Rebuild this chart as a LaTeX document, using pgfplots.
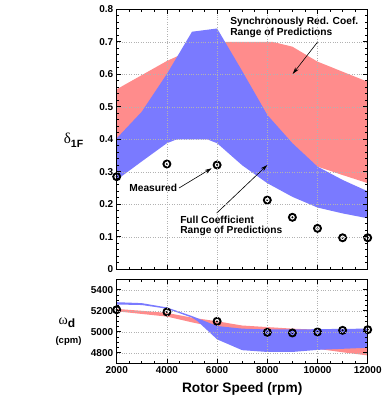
\documentclass[border=0pt]{standalone}
\usepackage{pgfplots}
\pgfplotsset{compat=1.18}
\usepackage{fontspec}
\setmainfont{Liberation Sans}
\newfontfamily\greekfont{Liberation Serif}
\usetikzlibrary{arrows.meta}
\definecolor{bandred}{RGB}{255,140,140}
\definecolor{bandblue}{RGB}{122,122,255}
\newcommand{\annfont}{\bfseries\fontsize{10.2}{10.4}\selectfont}
\pgfplotsset{
  myaxis/.style={
    scale only axis, width=251pt,
    xmin=2000, xmax=12000,
    xtick={2000,4000,6000,8000,10000,12000}, minor x tick num=3,
    scaled x ticks=false, scaled y ticks=false,
    tick align=inside,
    xtick pos=both, ytick pos=both,
    grid=major,
    major grid style={dotted, black!30, line width=0.6pt},
    axis line style={line width=1.1pt},
    major tick length=4.5pt, minor tick length=2.5pt,
    every tick/.style={black, line width=0.8pt},
    tick label style={font=\bfseries\fontsize{10}{12}\selectfont},
    /pgf/number format/assume math mode=true,
    /pgf/number format/1000 sep={},
    set layers, axis on top,
    clip=false,
  },
  measured/.style={only marks, mark=o, mark size=3.5pt, line width=1.9pt,
    mark options={fill=white, draw=black}, on layer=axis foreground},
  mdot/.style={only marks, mark=*, mark size=0.8pt, mark options={fill=black, draw=black},
    on layer=axis foreground},
}
\begin{document}
\begin{tikzpicture}
% ---------------- top panel ----------------
\begin{axis}[myaxis,
  at={(116.7pt,130.7pt)}, anchor=south west,
  height=260pt,
  ymin=0, ymax=0.8,
  ytick={0,0.1,...,0.8}, minor y tick num=4,
  xticklabels=\empty,
  yticklabel style={/pgf/number format/fixed, /pgf/number format/precision=1},
]
\addplot[fill=bandred, draw=none] coordinates {
  (2000,0.554) (4000,0.641) (4400,0.655) (5000,0.680) (6000,0.700) (8200,0.700)
  (9000,0.685) (10000,0.639) (11000,0.608) (12000,0.577)
  (12000,0.265) (11000,0.290) (10000,0.316) (9000,0.340) (8000,0.360) (7000,0.380)
  (6000,0.395) (5600,0.400) (5000,0.418) (4400,0.400) (2000,0.403)
};
\addplot[fill=bandblue, draw=none] coordinates {
  (2000,0.403) (3000,0.485) (4000,0.601) (5000,0.731) (6000,0.741) (7000,0.610)
  (8000,0.475) (9000,0.388) (10000,0.316) (11000,0.275) (12000,0.240)
  (12000,0.157) (11000,0.172) (10000,0.190) (9000,0.223) (8000,0.265) (7000,0.320)
  (6000,0.388) (5600,0.400) (4400,0.400) (4000,0.388) (3000,0.332) (2000,0.275)
};
\addplot[measured] coordinates {
  (2000,0.285) (4000,0.324) (6000,0.321) (8000,0.213) (9000,0.160) (10000,0.126) (11000,0.097) (12000,0.097)
};
\addplot[mdot] coordinates {
  (2000,0.285) (4000,0.324) (6000,0.321) (8000,0.213) (9000,0.160) (10000,0.126) (11000,0.097) (12000,0.097)
};
\node[anchor=west, align=left, font=\annfont, inner sep=0pt] at (axis cs:6520,0.744)
  {Synchronously Red. Coef.\\Range of Predictions};
\draw[-{Stealth[length=7pt,width=4pt]}, line width=0.6pt] (axis cs:10000,0.699) -- (axis cs:9012,0.601);
\node[anchor=east, font=\annfont, inner sep=0pt] at (axis cs:4410,0.25) {Measured};
\draw[-{Stealth[length=7pt,width=4pt]}, line width=0.6pt] (axis cs:4480,0.25) -- (axis cs:5785,0.311);
\node[anchor=west, align=left, font=\annfont, inner sep=0pt] at (axis cs:4524,0.133)
  {Full Coefficient\\Range of Predictions};
\draw[-{Stealth[length=7pt,width=4pt]}, line width=0.6pt] (axis cs:5984,0.173) -- (axis cs:8000,0.321);
\node at (rel axis cs:-0.172,0.497)
  {{\greekfont\fontsize{15}{15}\selectfont δ}\raisebox{-3.5pt}{\bfseries\fontsize{10.5}{10.5}\selectfont 1F}};
\end{axis}
% ---------------- bottom panel ----------------
\begin{axis}[myaxis,
  at={(116.7pt,36.7pt)}, anchor=south west,
  height=84pt,
  ymin=4700, ymax=5500,
  ytick={4800,5000,5200,5400}, minor y tick num=3,
]
\addplot[fill=bandred, draw=none] coordinates {
  (2000,5218) (3000,5200) (4000,5180) (5000,5135) (6000,5100) (7000,5060) (8000,5045)
  (9000,5030) (10000,5020) (11000,5015) (12000,5010)
  (12000,4775) (11000,4805) (10000,4838) (9000,4870) (8000,4900) (7000,4960)
  (6000,5040) (5000,5090) (4000,5145) (3000,5170) (2000,5195)
};
\addplot[fill=bandblue, draw=none] coordinates {
  (2000,5282) (3000,5273) (4000,5232) (5000,5150) (6000,5055) (7000,5030) (8000,5022)
  (9000,5022) (10000,5025) (11000,5028) (12000,5030)
  (12000,4848) (11000,4838) (10000,4828) (9000,4808) (8000,4808) (7000,4825)
  (6000,4928) (5200,5105) (5000,5135) (4000,5220) (3000,5255) (2000,5260)
};
\addplot[measured] coordinates {
  (2000,5210) (4000,5189) (6000,5100) (8000,4995) (9000,4989) (10000,4999) (11000,5014) (12000,5020)
};
\addplot[mdot] coordinates {
  (2000,5210) (4000,5189) (6000,5100) (8000,4995) (9000,4989) (10000,4999) (11000,5014) (12000,5020)
};
\node at (rel axis cs:-0.198,0.48)
  {{\greekfont\fontsize{14}{14}\selectfont ω}\raisebox{-3pt}{\bfseries\fontsize{12}{12}\selectfont d}};
\node[font=\bfseries\fontsize{9.5}{10}\selectfont] at (rel axis cs:-0.192,0.265) {(cpm)};
\node[font=\bfseries\fontsize{13.7}{14}\selectfont] at (rel axis cs:0.5,-0.31) {Rotor Speed (rpm)};
\end{axis}
\path (0,0) rectangle (390pt,400pt);
\end{tikzpicture}
\end{document}
